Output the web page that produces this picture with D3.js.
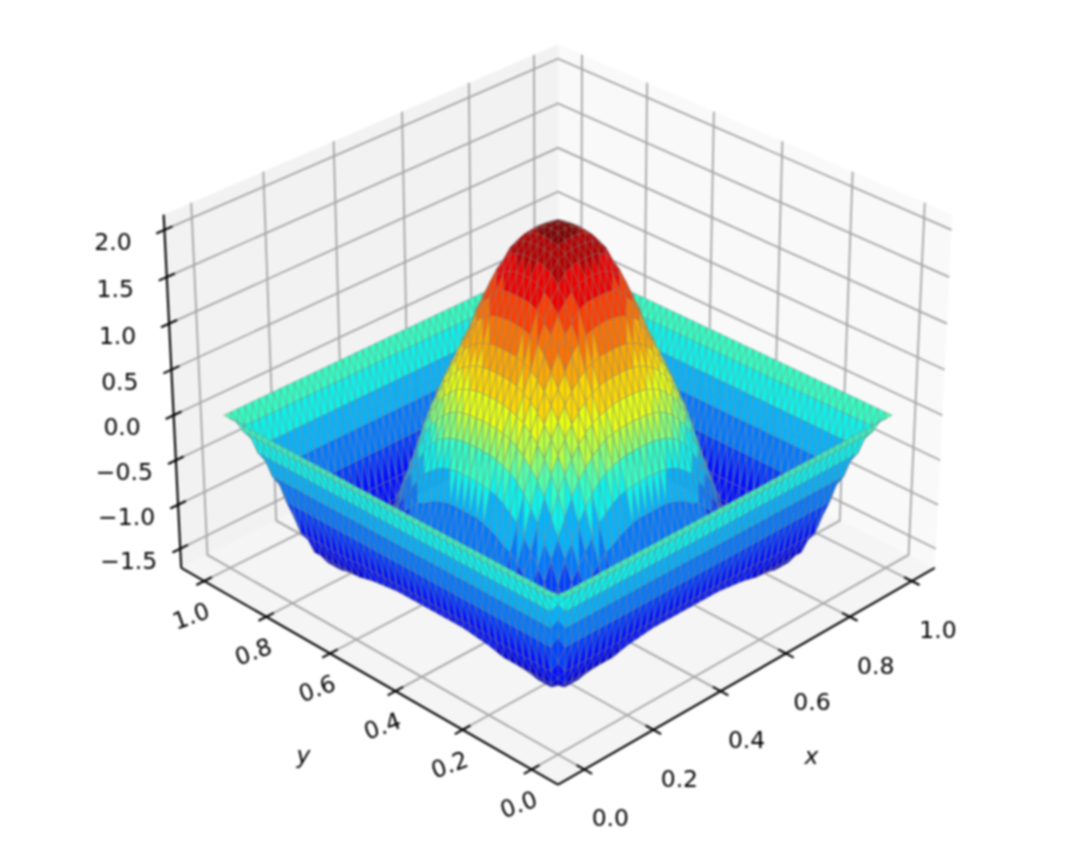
<!DOCTYPE html>
<html>
<head>
<meta charset="utf-8">
<script src="https://cdn.jsdelivr.net/npm/d3@7"></script>
<style>
  body { margin: 0; background: #fff; }
  #wrap { width: 1076px; height: 851px; filter: blur(0.8px); }
  svg { display: block; }
  text { font-family: "DejaVu Sans", sans-serif; fill: #000; }
</style>
</head>
<body>
<div id="wrap"><svg id="chart" width="1076" height="851"></svg></div>
<script>
// tick labels
const xTicks = [0, 0.2, 0.4, 0.6, 0.8, 1];
const yTicks = [0, 0.2, 0.4, 0.6, 0.8, 1];
const zTicks = [-1.5, -1, -0.5, 0, 0.5, 1, 1.5, 2];

// axis limits
const xLim = [-0.075, 1.075];
const yLim = [-0.075, 1.075];
const zLim = [-1.72, 2.16];

// surface heights, 51 x 51 nodes.
// The surface looks mirror symmetric, so only one quarter is kept:
// row/column = number of nodes away from the centre of the square
const zQuarter = [
  [2.07,2.05,2.00,1.94,1.84,1.69,1.51,1.28,1.01,.79,.57,.35,.10,-.19,-.52,-.82,-1.06,-1.31,-1.44,-1.42,-1.26,-.93,-.64,-.38,-.15,0],
  [2.05,2.04,1.99,1.93,1.84,1.69,1.51,1.27,1.01,.79,.57,.34,.09,-.20,-.52,-.82,-1.07,-1.32,-1.44,-1.42,-1.26,-.93,-.64,-.38,-.15,0],
  [2.00,1.99,1.97,1.92,1.82,1.67,1.50,1.26,1.00,.78,.56,.34,.09,-.20,-.52,-.83,-1.08,-1.32,-1.44,-1.42,-1.26,-.93,-.64,-.38,-.15,0],
  [1.94,1.93,1.92,1.88,1.78,1.62,1.46,1.23,.97,.76,.54,.32,.07,-.22,-.54,-.85,-1.09,-1.32,-1.44,-1.42,-1.26,-.93,-.64,-.38,-.15,0],
  [1.84,1.84,1.82,1.78,1.68,1.55,1.36,1.18,.93,.72,.51,.30,.05,-.24,-.57,-.86,-1.11,-1.34,-1.44,-1.42,-1.26,-.93,-.64,-.38,-.15,0],
  [1.69,1.69,1.67,1.62,1.55,1.45,1.27,1.10,.87,.67,.47,.25,.01,-.29,-.61,-.90,-1.14,-1.36,-1.45,-1.42,-1.26,-.93,-.64,-.38,-.15,0],
  [1.51,1.51,1.50,1.46,1.36,1.27,1.14,.95,.78,.59,.40,.19,-.05,-.35,-.67,-.92,-1.18,-1.39,-1.46,-1.43,-1.26,-.93,-.64,-.38,-.15,0],
  [1.28,1.27,1.26,1.23,1.18,1.10,.95,.81,.67,.50,.32,.10,-.14,-.42,-.70,-.98,-1.22,-1.39,-1.47,-1.44,-1.26,-.93,-.64,-.38,-.15,0],
  [1.01,1.01,1.00,.97,.93,.87,.78,.67,.53,.38,.20,.00,-.25,-.53,-.79,-1.07,-1.28,-1.40,-1.50,-1.45,-1.26,-.93,-.64,-.38,-.15,0],
  [.79,.79,.78,.76,.72,.67,.59,.50,.38,.24,.07,-.14,-.39,-.66,-.87,-1.13,-1.31,-1.43,-1.52,-1.46,-1.26,-.93,-.64,-.38,-.15,0],
  [.57,.57,.56,.54,.51,.47,.40,.32,.20,.07,-.10,-.32,-.55,-.78,-1.01,-1.24,-1.39,-1.48,-1.54,-1.48,-1.26,-.93,-.64,-.38,-.15,0],
  [.35,.34,.34,.32,.30,.25,.19,.10,.00,-.14,-.32,-.51,-.70,-.91,-1.13,-1.30,-1.46,-1.53,-1.55,-1.50,-1.28,-.93,-.64,-.38,-.15,0],
  [.10,.09,.09,.07,.05,.01,-.05,-.14,-.25,-.39,-.55,-.70,-.95,-1.13,-1.27,-1.42,-1.52,-1.56,-1.58,-1.50,-1.28,-.93,-.64,-.38,-.15,0],
  [-.19,-.20,-.20,-.22,-.24,-.29,-.35,-.42,-.53,-.66,-.78,-.91,-1.13,-1.30,-1.37,-1.50,-1.58,-1.59,-1.59,-1.50,-1.28,-.93,-.64,-.38,-.15,0],
  [-.52,-.52,-.52,-.54,-.57,-.61,-.67,-.70,-.79,-.87,-1.01,-1.13,-1.27,-1.37,-1.49,-1.58,-1.63,-1.61,-1.60,-1.50,-1.28,-.93,-.64,-.38,-.15,0],
  [-.82,-.82,-.83,-.85,-.86,-.90,-.92,-.98,-1.07,-1.13,-1.24,-1.30,-1.42,-1.50,-1.58,-1.65,-1.65,-1.63,-1.62,-1.50,-1.28,-.93,-.64,-.38,-.15,0],
  [-1.06,-1.07,-1.08,-1.09,-1.11,-1.14,-1.18,-1.22,-1.28,-1.31,-1.39,-1.46,-1.52,-1.58,-1.63,-1.65,-1.66,-1.64,-1.62,-1.50,-1.28,-.93,-.64,-.38,-.15,0],
  [-1.31,-1.32,-1.32,-1.32,-1.34,-1.36,-1.39,-1.39,-1.40,-1.43,-1.48,-1.53,-1.56,-1.59,-1.61,-1.63,-1.64,-1.64,-1.62,-1.50,-1.28,-.93,-.64,-.38,-.15,0],
  [-1.44,-1.44,-1.44,-1.44,-1.44,-1.45,-1.46,-1.47,-1.50,-1.52,-1.54,-1.55,-1.58,-1.59,-1.60,-1.62,-1.62,-1.62,-1.56,-1.50,-1.28,-.93,-.64,-.38,-.15,0],
  [-1.42,-1.42,-1.42,-1.42,-1.42,-1.42,-1.43,-1.44,-1.45,-1.46,-1.48,-1.50,-1.50,-1.50,-1.50,-1.50,-1.50,-1.50,-1.50,-1.40,-1.28,-.93,-.64,-.38,-.15,0],
  [-1.26,-1.26,-1.26,-1.26,-1.26,-1.26,-1.26,-1.26,-1.26,-1.26,-1.26,-1.28,-1.28,-1.28,-1.28,-1.28,-1.28,-1.28,-1.28,-1.28,-1.14,-.93,-.64,-.38,-.15,0],
  [-.93,-.93,-.93,-.93,-.93,-.93,-.93,-.93,-.93,-.93,-.93,-.93,-.93,-.93,-.93,-.93,-.93,-.93,-.93,-.93,-.93,-.78,-.64,-.38,-.15,0],
  [-.64,-.64,-.64,-.64,-.64,-.64,-.64,-.64,-.64,-.64,-.64,-.64,-.64,-.64,-.64,-.64,-.64,-.64,-.64,-.64,-.64,-.64,-.51,-.38,-.15,0],
  [-.38,-.38,-.38,-.38,-.38,-.38,-.38,-.38,-.38,-.38,-.38,-.38,-.38,-.38,-.38,-.38,-.38,-.38,-.38,-.38,-.38,-.38,-.38,-.26,-.15,0],
  [-.15,-.15,-.15,-.15,-.15,-.15,-.15,-.15,-.15,-.15,-.15,-.15,-.15,-.15,-.15,-.15,-.15,-.15,-.15,-.15,-.15,-.15,-.15,-.15,-.07,0],
  [0,0,0,0,0,0,0,0,0,0,0,0,0,0,0,0,0,0,0,0,0,0,0,0,0,0]
];

// colour bands of the surface (height edges and one colour per band)
const bandEdges = [-1.41, -1.14, -.87, -.6, -.33, -.12, 0, .08, .22, .4, .6, .84, 1.08, 1.3, 1.54, 1.78, 2];
const bandColors = ["#0000dc", "#0010ff", "#0040ff", "#0078ff", "#00b4ff", "#08f4ec", "#30ffc4", "#50ffa8", "#84ff74",
    "#b8ff40", "#e8ff10", "#ffd800", "#ffa800", "#ff7000", "#ff3c00", "#ee0000", "#b40000", "#800000"];

// camera, fitted to the box corners in the picture
const elev = 30 * Math.PI / 180;
const camDist = 8.22;
const focal = 545;
const centerX = 558;
const centerY = 395.3;

// data -> unit box (4:4:3)
const xBox = d3.scaleLinear().domain(xLim).range([-0.5, 0.5]);
const yBox = d3.scaleLinear().domain(yLim).range([-0.5, 0.5]);
const zBox = d3.scaleLinear().domain(zLim).range([-0.374, 0.374]);

// Function to project a data point, azimuth is fixed at -135
function project(x, y, z) {
    const u = xBox(x), v = yBox(y), w = zBox(z);
    const h = (u - v) / Math.SQRT2;
    const q = (u + v) * Math.sin(elev) / Math.SQRT2 + w * Math.cos(elev);
    const d = -(u + v) * Math.cos(elev) / Math.SQRT2 + w * Math.sin(elev);
    const k = focal / (1 - d / camDist);
    return { sx: centerX + h * k, sy: centerY - q * k, depth: d };
}

const svg = d3.select("#chart");
const line3d = d3.line().x(d => project(...d).sx).y(d => project(...d).sy);
const polygon3d = d3.line().x(d => project(...d).sx).y(d => project(...d).sy).curve(d3.curveLinearClosed);

// panes
const panes = [
    { fill: "#f2f2f2", pts: [[xLim[0], yLim[1], zLim[0]], [xLim[1], yLim[1], zLim[0]], [xLim[1], yLim[1], zLim[1]], [xLim[0], yLim[1], zLim[1]]] },
    { fill: "#f9f9f9", pts: [[xLim[1], yLim[1], zLim[0]], [xLim[1], yLim[0], zLim[0]], [xLim[1], yLim[0], zLim[1]], [xLim[1], yLim[1], zLim[1]]] },
    { fill: "#f5f5f5", pts: [[xLim[0], yLim[0], zLim[0]], [xLim[1], yLim[0], zLim[0]], [xLim[1], yLim[1], zLim[0]], [xLim[0], yLim[1], zLim[0]]] }
];
svg.append("g").selectAll("path").data(panes).join("path")
    .attr("d", d => polygon3d(d.pts))
    .attr("fill", d => d.fill);

// grid lines
const gridLines = [];
xTicks.forEach(t => {
    gridLines.push([[t, yLim[0], zLim[0]], [t, yLim[1], zLim[0]], [t, yLim[1], zLim[1]]]);
});
yTicks.forEach(t => {
    gridLines.push([[xLim[0], t, zLim[0]], [xLim[1], t, zLim[0]], [xLim[1], t, zLim[1]]]);
});
zTicks.forEach(t => {
    gridLines.push([[xLim[0], yLim[1], t], [xLim[1], yLim[1], t], [xLim[1], yLim[0], t]]);
});
svg.append("g").selectAll("path").data(gridLines).join("path")
    .attr("d", line3d)
    .attr("fill", "none")
    .attr("stroke", "#a4a4a4")
    .attr("stroke-width", 1.8);

// axis lines
const axisLines = [
    [[xLim[0], yLim[0], zLim[0]], [xLim[1], yLim[0], zLim[0]]],
    [[xLim[0], yLim[0], zLim[0]], [xLim[0], yLim[1], zLim[0]]],
    [[xLim[0], yLim[1], zLim[0]], [xLim[0], yLim[1], zLim[1]]]
];
svg.append("g").selectAll("path").data(axisLines).join("path")
    .attr("d", line3d)
    .attr("fill", "none")
    .attr("stroke", "#000")
    .attr("stroke-width", 2.1);

// tick marks
const tickLen = 0.022;
const tickMarks = [];
xTicks.forEach(t => tickMarks.push([[t, yLim[0] - tickLen, zLim[0]], [t, yLim[0] + tickLen, zLim[0]]]));
yTicks.forEach(t => tickMarks.push([[xLim[0] - tickLen, t, zLim[0]], [xLim[0] + tickLen, t, zLim[0]]]));
zTicks.forEach(t => tickMarks.push([[xLim[0] - tickLen, yLim[1], t], [xLim[0] + tickLen, yLim[1], t]]));
svg.append("g").selectAll("path").data(tickMarks).join("path")
    .attr("d", line3d)
    .attr("fill", "none")
    .attr("stroke", "#000")
    .attr("stroke-width", 2.1);

const bandColor = d3.scaleThreshold().domain(bandEdges).range(bandColors);

// build the triangles from the table
const nodeCount = 51;
const mid = (nodeCount - 1) / 2;
const nodeValue = d3.scaleLinear().domain([0, nodeCount - 1]).range([0, 1]);
function node(i, j) {
    return [nodeValue(i), nodeValue(j), zQuarter[Math.abs(i - mid)][Math.abs(j - mid)]];
}
const triangles = [];
d3.range(nodeCount - 1).forEach(i => {
    d3.range(nodeCount - 1).forEach(j => {
        [[node(i, j), node(i + 1, j), node(i + 1, j + 1)],
         [node(i, j), node(i, j + 1), node(i + 1, j + 1)]].forEach(pts => {
            const meanZ = d3.mean(pts, p => p[2]);
            const depth = d3.mean(pts, p => project(...p).depth);
            triangles.push({ pts, meanZ, depth });
        });
    });
});
triangles.sort((a, b) => d3.ascending(a.depth, b.depth));

svg.append("g").selectAll("path").data(triangles).join("path")
    .attr("d", d => polygon3d(d.pts))
    .attr("fill", d => bandColor(d.meanZ))
    .attr("stroke", "rgba(128,128,128,0.5)")
    .attr("stroke-width", 0.9)
    .attr("stroke-linejoin", "round");

// tick labels
const labelSize = 23.5;
const fmt = d3.format(".1f");
const minusFmt = v => fmt(v).replace("-", "\u2212");

svg.append("g").selectAll("text").data(xTicks).join("text")
    .attr("x", d => project(d, yLim[0], zLim[0]).sx + 26)
    .attr("y", d => project(d, yLim[0], zLim[0]).sy + 49)
    .attr("text-anchor", "middle")
    .attr("dominant-baseline", "central")
    .attr("font-size", labelSize)
    .text(minusFmt);

svg.append("g").selectAll("text").data(yTicks).join("text")
    .attr("transform", d => {
        const p = project(xLim[0], d, zLim[0]);
        return `translate(${p.sx - 13},${p.sy + 35}) rotate(-20)`;
    })
    .attr("text-anchor", "middle")
    .attr("dominant-baseline", "central")
    .attr("font-size", labelSize)
    .text(minusFmt);

svg.append("g").selectAll("text").data(zTicks).join("text")
    .attr("x", d => project(xLim[0], yLim[1], d).sx - 51.5)
    .attr("y", d => project(xLim[0], yLim[1], d).sy + 12)
    .attr("text-anchor", "middle")
    .attr("dominant-baseline", "central")
    .attr("font-size", labelSize)
    .text(minusFmt);

// axis titles
const xTitle = project(0.5, yLim[0], zLim[0]);
svg.append("text")
    .attr("x", xTitle.sx + 58).attr("y", xTitle.sy + 84)
    .attr("text-anchor", "middle").attr("dominant-baseline", "central")
    .attr("font-size", labelSize).attr("font-style", "italic")
    .text("x");
const yTitle = project(xLim[0], 0.5, zLim[0]);
svg.append("text")
    .attr("x", yTitle.sx - 59).attr("y", yTitle.sy + 83)
    .attr("text-anchor", "middle").attr("dominant-baseline", "central")
    .attr("font-size", labelSize).attr("font-style", "italic")
    .text("y");
</script>
</body>
</html>
